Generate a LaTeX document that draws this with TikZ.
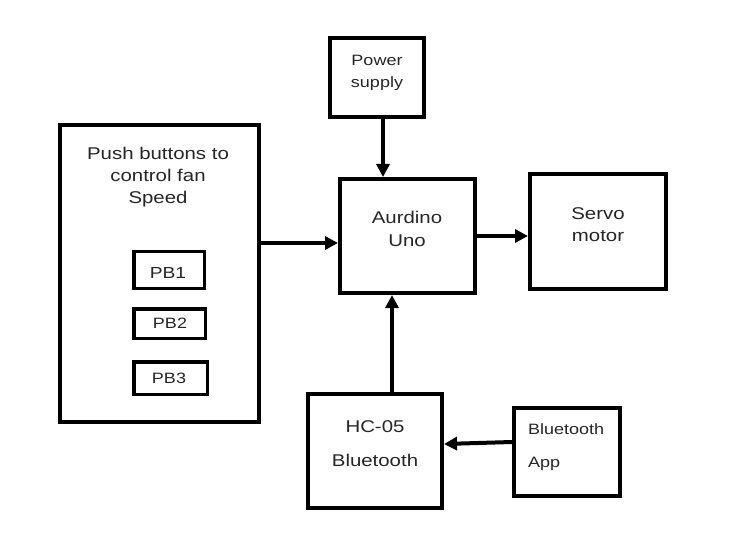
\documentclass[tikz,border=0pt]{standalone}
\usepackage{fontspec}
\setmainfont{Liberation Sans}[FakeStretch=1.2]
\usetikzlibrary{arrows.meta}

\tikzset{
  blockbox/.style={draw, line width=4pt, rectangle, inner sep=0pt},
  pbbox/.style={draw, line width=3.5pt, rectangle, inner sep=0pt},
  arr/.style={line width=4pt, -{Triangle[length=13pt,width=13pt]}},
  lbl/.style={text=black!85, align=center, inner sep=0pt},
}

\begin{document}
\begin{tikzpicture}[x=1pt,y=-1pt]
\fill[white] (0,0) rectangle (739,540);
\useasboundingbox (0,0) rectangle (739,540);
% blocks
\node[blockbox, minimum width=199pt, minimum height=297pt] (pushbox) at (159.5,273.5) {};
\node[pbbox, minimum width=70.5pt, minimum height=36.5pt] (pbone) at (169,270) {};
\node[pbbox, minimum width=71.5pt, minimum height=29.5pt] (pbtwo) at (169.5,323.5) {};
\node[pbbox, minimum width=73.5pt, minimum height=32.5pt] (pbthree) at (170.5,378) {};
\node[blockbox, minimum width=94pt, minimum height=79pt] (power) at (377,77.5) {};
\node[blockbox, minimum width=135pt, minimum height=114pt] (arduino) at (407.5,236) {};
\node[blockbox, minimum width=136pt, minimum height=115pt] (servo) at (598,231.5) {};
\node[blockbox, minimum width=134pt, minimum height=114pt] (hcbt) at (375,451) {};
\node[blockbox, minimum width=106pt, minimum height=88pt] (btapp) at (567,452) {};
% texts
\node[lbl, font=\fontsize{17}{22}\selectfont] (pushtxt) at (158,177) {Push buttons to\\control fan\\Speed};
\node[lbl, font=\fontsize{16}{20}\selectfont] (pbonetxt) at (168,273) {PB1};
\node[lbl, font=\fontsize{15}{20}\selectfont] (pbtwotxt) at (170,323) {PB2};
\node[lbl, font=\fontsize{15}{20}\selectfont] (pbthreetxt) at (169,378) {PB3};
\node[lbl, font=\fontsize{15}{21.5}\selectfont] (powertxt) at (377,73) {Power\\supply};
\node[lbl, font=\fontsize{17}{23}\selectfont] (arduinotxt) at (407,229) {Aurdino\\Uno};
\node[lbl, font=\fontsize{17}{22}\selectfont] (servotxt) at (598,224.5) {Servo\\motor};
\node[lbl, font=\fontsize{17}{34}\selectfont] (hcbttxt) at (375,443.5) {HC-05\\Bluetooth};
\node[lbl, align=left, anchor=west, font=\fontsize{15}{33}\selectfont] (btapptxt) at (528,447.5) {Bluetooth\\App};
% connectors
\draw[arr] ([xshift=6pt]power.south) -- ([xshift=6pt]power.south |- arduino.north);
\draw[arr] ([yshift=-7pt]arduino.west -| pushbox.east) -- ([yshift=-7pt]arduino.west);
\draw[arr] (arduino.east) -- (arduino.east -| servo.west);
\draw[arr] ([xshift=17pt]hcbt.north) -- ([xshift=17pt]hcbt.north |- arduino.south);
\draw[arr] ([yshift=10pt]btapp.west) -- ([yshift=7pt]hcbt.east);
\end{tikzpicture}
\end{document}
